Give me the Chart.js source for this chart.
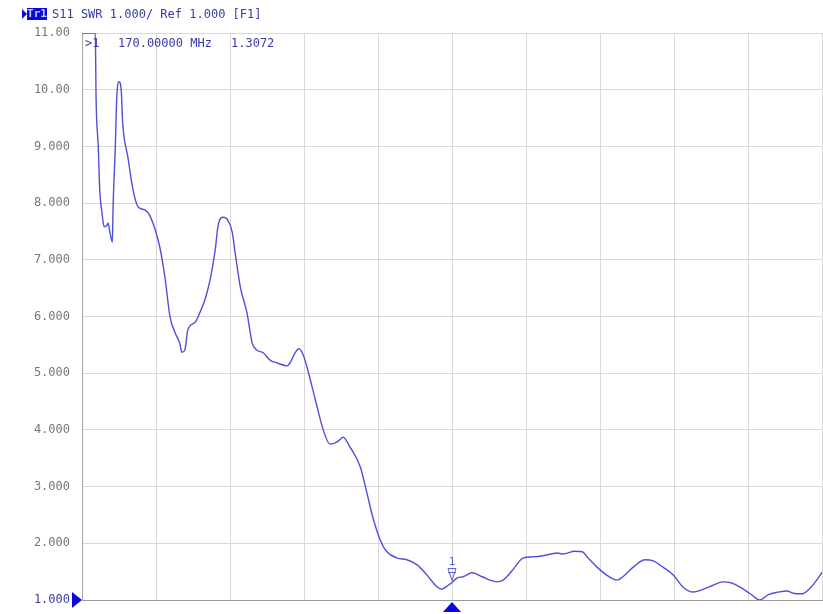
<!DOCTYPE html>
<html>
<head>
<meta charset="utf-8">
<script src="https://cdn.jsdelivr.net/npm/chart.js@4.4.0/dist/chart.umd.min.js"></script>
<style>
  html, body { margin: 0; padding: 0; background: #fff; }
</style>
</head>
<body>
<canvas id="swr-chart" width="823" height="614"></canvas>
<script>
// S11 SWR trace
const freqMHz = [
  120.0, 121.8, 121.9, 122.2, 122.4, 122.7, 123.0, 123.4, 123.5, 123.8,
  124.1, 124.2, 124.5, 124.7, 125.0, 125.3, 125.5, 126.2, 126.9, 127.6,
  128.5, 129.2, 130.5, 131.2, 131.9, 132.6, 133.2, 133.5, 133.9, 134.3,
  135.3, 135.9, 136.6, 137.3, 138.0, 138.4, 139.1, 139.7, 140.3, 140.7,
  141.4, 142.3, 143.0, 143.6, 144.5, 145.4, 146.4, 147.7, 148.1, 148.8,
  149.3, 149.9, 150.5, 151.5, 152.6, 153.5, 154.5, 155.3, 156.2, 157.6,
  158.5, 159.3, 160.3, 161.2, 162.6, 163.9, 165.3, 166.6, 168.0, 168.6,
  169.5, 170.0, 170.7, 171.5, 172.7, 174.1, 175.1, 176.1, 176.9, 178.2,
  179.6, 180.9, 182.3, 184.2, 185.0, 186.6, 187.6, 188.4, 189.6, 190.9,
  192.3, 193.1, 194.5, 196.1, 197.2, 198.5, 199.9, 201.2, 202.6, 203.8,
  205.3, 206.6, 207.8, 208.9, 210.3, 211.6, 212.7, 214.1, 215.3, 216.1,
  217.3, 218.4, 219.5, 220.0
];
const swr = [
  11.0, 11.0, 9.87, 8.99, 8.23, 7.83, 7.58, 7.61, 7.65, 7.47,
  7.31, 7.93, 8.99, 9.87, 10.14, 9.99, 9.41, 8.81, 8.23, 7.93,
  7.88, 7.77, 7.23, 6.70, 5.99, 5.71, 5.53, 5.37, 5.41, 5.76,
  5.90, 6.06, 6.29, 6.64, 7.17, 7.61, 7.75, 7.70, 7.49, 7.12,
  6.52, 6.06, 5.53, 5.41, 5.36, 5.23, 5.18, 5.13, 5.18, 5.36,
  5.43, 5.32, 5.06, 4.55, 4.00, 3.75, 3.79, 3.87, 3.70, 3.35,
  2.89, 2.46, 2.06, 1.85, 1.74, 1.71, 1.62, 1.44, 1.23, 1.19,
  1.26, 1.31, 1.39, 1.41, 1.48, 1.41, 1.35, 1.32, 1.35, 1.53,
  1.74, 1.76, 1.78, 1.83, 1.81, 1.86, 1.85, 1.74, 1.58, 1.44,
  1.35, 1.41, 1.58, 1.71, 1.69, 1.58, 1.44, 1.23, 1.14, 1.18,
  1.26, 1.32, 1.30, 1.23, 1.11, 1.00, 1.09, 1.14, 1.16, 1.12,
  1.11, 1.21, 1.39, 1.49
];
const yTickLabels = ['1.000', '2.000', '3.000', '4.000', '5.000', '6.000',
  '7.000', '8.000', '9.000', '10.00', '11.00'];

const traceTag = 'Tr1';
const traceInfo = 'S11 SWR 1.000/ Ref 1.000 [F1]';
const markerName = '1';
const markerFreq = 170.0;
const markerSwr = 1.3072;
const markerFreqText = '170.00000 MHz';
const markerSwrText = '1.3072';

const MONO = '"DejaVu Sans Mono", "Liberation Mono", monospace';
const BLUE = '#0a0adc';
const TEXT_BLUE = '#3a3aa8';

const vnaOverlay = {
  id: 'vnaOverlay',
  afterDraw(chart) {
    const c = chart.ctx;
    const x = chart.scales.x;
    const y = chart.scales.y;
    const area = chart.chartArea;
    c.save();

    // header line
    c.textBaseline = 'middle';
    c.fillStyle = BLUE;
    c.beginPath();
    c.moveTo(22, 9); c.lineTo(27, 14); c.lineTo(22, 19); c.closePath();
    c.fill();
    c.fillRect(27, 8, 20, 12);
    c.fillStyle = '#c8c8ff';
    c.font = 'bold 11px ' + MONO;
    c.textAlign = 'center';
    c.fillText(traceTag, 37, 14.5);
    c.font = '12px ' + MONO;
    c.textAlign = 'left';
    c.fillStyle = TEXT_BLUE;
    c.fillText(traceInfo, 52, 14.5);

    // marker readout
    c.fillText('>' + markerName, 85, 44);
    c.fillText(markerFreqText, 118, 44);
    c.fillText(markerSwrText, 231, 44);

    // reference level arrow on the left
    const yRef = y.getPixelForValue(1);
    c.fillStyle = BLUE;
    c.beginPath();
    c.moveTo(area.left - 10, yRef - 8);
    c.lineTo(area.left, yRef);
    c.lineTo(area.left - 10, yRef + 8);
    c.closePath();
    c.fill();

    // marker position triangle below the grid
    const xm = x.getPixelForValue(markerFreq);
    c.beginPath();
    c.moveTo(xm, area.bottom + 2);
    c.lineTo(xm + 9, area.bottom + 12);
    c.lineTo(xm - 9, area.bottom + 12);
    c.closePath();
    c.fill();

    // marker flag on the trace
    const ym = y.getPixelForValue(markerSwr);
    c.strokeStyle = '#5a5ad0';
    c.lineWidth = 1;
    c.beginPath();
    c.moveTo(xm - 4, ym - 14);
    c.lineTo(xm + 4, ym - 14);
    c.lineTo(xm, ym - 2);
    c.closePath();
    c.stroke();
    c.beginPath();
    c.moveTo(xm - 4, ym - 10);
    c.lineTo(xm + 4, ym - 10);
    c.stroke();
    c.fillStyle = '#5a5ad0';
    c.font = '11px ' + MONO;
    c.textAlign = 'center';
    c.fillText(markerName, xm, ym - 20);

    c.restore();
  }
};

const ctx = document.getElementById('swr-chart');

new Chart(ctx, {
  type: 'line',
  data: {
    datasets: [{
      label: 'S11 SWR',
      data: freqMHz.map((f, i) => ({ x: f, y: swr[i] })),
      borderColor: '#5050d8',
      borderWidth: 1.4,
      pointRadius: 0,
      cubicInterpolationMode: 'monotone',
      fill: false
    }]
  },
  options: {
    responsive: false,
    animation: false,
    layout: {
      padding: { top: 33, right: 1, bottom: 14, left: 0 }
    },
    scales: {
      x: {
        type: 'linear',
        min: 120,
        max: 220,
        ticks: { display: false, stepSize: 10 },
        grid: { color: '#d9d9d9', lineWidth: 1, drawTicks: false },
        border: { color: '#9a9a9a', width: 1 },
        afterFit(scale) {
          scale.height = 0;
          scale.paddingLeft = 0;
          scale.paddingRight = 0;
        }
      },
      y: {
        min: 1,
        max: 11,
        ticks: {
          stepSize: 1,
          padding: 12,
          font: { family: MONO, size: 12 },
          color: (c) => c.tick && c.tick.value === 1 ? TEXT_BLUE : '#777777',
          callback: (v) => yTickLabels[Math.round(v) - 1]
        },
        grid: { color: '#d9d9d9', lineWidth: 1, drawTicks: false },
        border: { color: '#a8a8a8', width: 1 },
        afterFit(scale) {
          scale.width = 82;
          scale.paddingTop = 0;
          scale.paddingBottom = 0;
        }
      }
    },
    plugins: {
      legend: { display: false },
      tooltip: { enabled: false }
    }
  },
  plugins: [vnaOverlay]
});
</script>
</body>
</html>
